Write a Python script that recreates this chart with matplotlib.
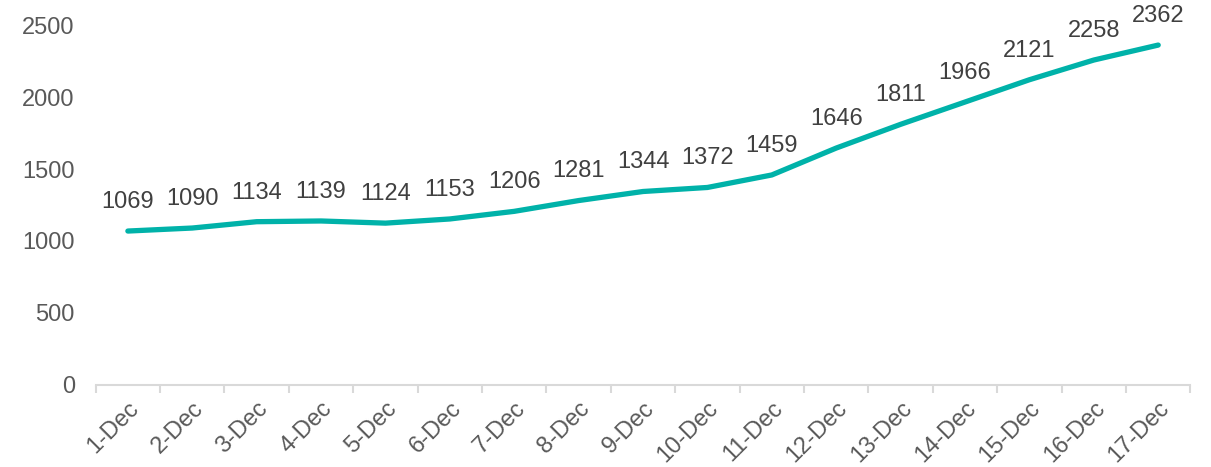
import matplotlib
matplotlib.use('Agg')
from matplotlib import pyplot as plt

days = ['1-Dec', '2-Dec', '3-Dec', '4-Dec', '5-Dec', '6-Dec', '7-Dec', '8-Dec', '9-Dec',
        '10-Dec', '11-Dec', '12-Dec', '13-Dec', '14-Dec', '15-Dec', '16-Dec', '17-Dec']
counts = [1069, 1090, 1134, 1139, 1124, 1153, 1206, 1281, 1344,
          1372, 1459, 1646, 1811, 1966, 2121, 2258, 2362]
yticks = [0, 500, 1000, 1500, 2000, 2500]

plt.rcParams['font.family'] = ['Liberation Sans', 'DejaVu Sans']

fig = plt.figure(figsize=(12.11, 4.67), dpi=100, facecolor='w')
ax = fig.add_axes([0.079, 0.176, 0.904, 0.770])

x = list(range(len(days)))
ax.plot(x, counts, color='#00B2A9', linewidth=3.8, solid_capstyle='round')

for xi, v in zip(x, counts):
    ax.annotate(str(v), (xi, v), xytext=(0, 13), textcoords='offset points',
                ha='center', va='bottom', fontsize=17, color='#404040')

ax.set_xlim(-0.5, len(days) - 0.5)
ax.set_ylim(0, 2500)
ax.set_yticks(yticks)
ax.set_yticklabels([str(t) for t in yticks], fontsize=17, color='#595959')
ax.tick_params(axis='y', length=0, pad=15)

# category ticks sit between the labels, like a spreadsheet chart
ax.set_xticks([i - 0.5 for i in range(len(days) + 1)])
ax.set_xticklabels([])
ax.set_xticks(x, minor=True)
ax.set_xticklabels(days, minor=True, rotation=45, ha='right', va='top',
                   rotation_mode='anchor', fontsize=17, color='#595959')
ax.tick_params(axis='x', which='major', length=6, color='#D9D9D9', width=1.5)
ax.tick_params(axis='x', which='minor', length=0, pad=9)

for s in ['top', 'right', 'left']:
    ax.spines[s].set_visible(False)
ax.spines['bottom'].set_color('#D9D9D9')
ax.spines['bottom'].set_linewidth(1.5)

fig.savefig('out.png', dpi=100)
